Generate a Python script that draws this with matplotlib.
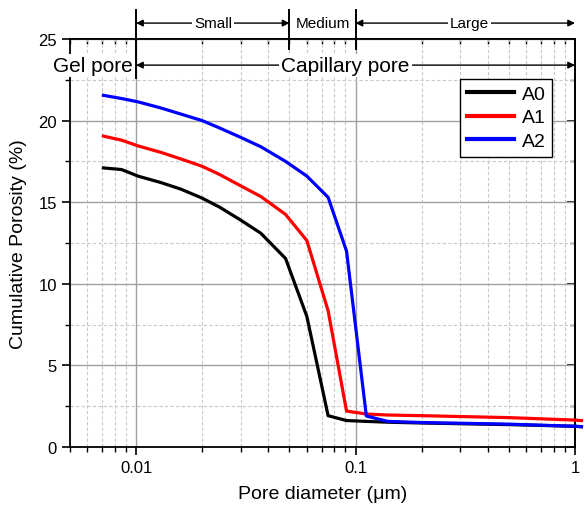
import matplotlib
matplotlib.use('Agg')
import matplotlib.pyplot as plt
from matplotlib.ticker import MultipleLocator, FixedLocator, NullFormatter

plt.rcParams['font.family'] = ['Liberation Sans', 'DejaVu Sans']

# pore diameter (um) and cumulative porosity (%)
diam = [0.0071, 0.0086, 0.0102, 0.013, 0.016, 0.020, 0.024, 0.030, 0.037,
        0.048, 0.060, 0.075, 0.091, 0.112, 0.14, 0.2, 0.5, 1.0, 1.07]
a0 = [17.1, 17.0, 16.6, 16.2, 15.8, 15.25, 14.7, 13.9, 13.1,
      11.55, 8.0, 1.92, 1.62, 1.57, 1.52, 1.47, 1.37, 1.27, 1.25]
a1 = [19.05, 18.8, 18.45, 18.05, 17.65, 17.2, 16.7, 16.0, 15.35,
      14.25, 12.65, 8.35, 2.2, 2.02, 1.96, 1.92, 1.8, 1.65, 1.62]
a2 = [21.55, 21.35, 21.15, 20.77, 20.4, 20.0, 19.55, 18.97, 18.4,
      17.5, 16.6, 15.3, 12.0, 1.9, 1.57, 1.5, 1.4, 1.27, 1.24]
series = [('A0', a0, 'black'), ('A1', a1, 'red'), ('A2', a2, 'blue')]

fig = plt.figure(figsize=(5.88, 5.10), dpi=100)
ax = fig.add_axes([70/588, 62/510, 505/588, 408/510])

for name, y, c in series:
    ax.plot(diam, y, color=c, lw=2.3, label=name, clip_on=False, zorder=3)

ax.set_xscale('log')
ax.set_xlim(0.005, 1)
ax.set_ylim(0, 25)
ax.yaxis.set_major_locator(MultipleLocator(5))
ax.yaxis.set_minor_locator(MultipleLocator(2.5))
ax.xaxis.set_major_locator(FixedLocator([0.01, 0.1, 1]))
ax.xaxis.set_major_formatter(plt.FuncFormatter(lambda v, p: '%g' % v))
ax.xaxis.set_minor_formatter(NullFormatter())

ax.grid(which='major', color='#a0a0a0', lw=1.0)
ax.grid(which='minor', color='#c8c8c8', lw=0.8, ls=(0, (3, 2)))
ax.set_axisbelow(True)

ax.tick_params(which='both', direction='out', top=False, right=False, labelsize=12)
ax.tick_params(which='major', length=6, width=1.2)
ax.tick_params(which='minor', length=3.5, width=1.0)
sec = ax.secondary_xaxis('top')
sec.tick_params(which='both', direction='in', labeltop=False)
sec.tick_params(which='major', length=6, width=1.2)
sec.tick_params(which='minor', length=3.5, width=1.0)
sec.xaxis.set_major_locator(FixedLocator([0.01, 0.1, 1]))
sec.xaxis.set_major_formatter(NullFormatter())
sec.xaxis.set_minor_formatter(NullFormatter())
sec2 = ax.secondary_yaxis('right')
sec2.tick_params(which='both', direction='in', labelright=False)
sec2.tick_params(which='major', length=6, width=1.2)
sec2.tick_params(which='minor', length=3.5, width=1.0)
sec2.yaxis.set_major_locator(MultipleLocator(5))
sec2.yaxis.set_minor_locator(MultipleLocator(2.5))
for s in list(ax.spines.values()) + list(sec.spines.values()) + list(sec2.spines.values()):
    s.set_linewidth(1.3)

ax.set_xlabel('Pore diameter (μm)', fontsize=14, labelpad=7)
ax.set_ylabel('Cumulative Porosity (%)', fontsize=14, labelpad=8)

leg = ax.legend(loc='upper right', bbox_to_anchor=(0.955, 0.903), borderaxespad=0,
                fontsize=14, fancybox=False, edgecolor='black', framealpha=1,
                handlelength=2.4, borderpad=0.35, labelspacing=0.3, handletextpad=0.4)
leg.get_frame().set_linewidth(1.0)
for ln in leg.get_lines():
    ln.set_linewidth(3)

# pore class annotations above / inside the frame
tr = ax.get_xaxis_transform()
ax.plot([0.01, 0.01], [1.07, 0.905], color='black', lw=1.4, transform=tr, clip_on=False)
for xv in [0.05, 0.1]:
    ax.plot([xv, xv], [1.07, 0.975], color='black', lw=1.4, transform=tr, clip_on=False)

arw = dict(arrowstyle='<|-|>', color='black', lw=1.0, mutation_scale=10, shrinkA=0, shrinkB=0)
ax.annotate('', xy=(0.01, 1.039), xytext=(0.05, 1.039), xycoords=tr, textcoords=tr,
            arrowprops=arw, annotation_clip=False)
ax.annotate('', xy=(0.1, 1.039), xytext=(1.0, 1.039), xycoords=tr, textcoords=tr,
            arrowprops=arw, annotation_clip=False)
ax.annotate('', xy=(0.01, 0.936), xytext=(1.0, 0.936), xycoords=tr, textcoords=tr,
            arrowprops=arw, annotation_clip=False)
wb = dict(facecolor='white', edgecolor='none', pad=1.5)
ax.text(0.0224, 1.039, 'Small', transform=tr, ha='center', va='center', fontsize=11,
        bbox=wb, clip_on=False)
ax.text(0.0707, 1.039, 'Medium', transform=tr, ha='center', va='center', fontsize=11,
        clip_on=False)
ax.text(0.33, 1.039, 'Large', transform=tr, ha='center', va='center', fontsize=11,
        bbox=wb, clip_on=False)
ax.text(0.09, 0.936, 'Capillary pore', transform=tr, ha='center', va='center', fontsize=15,
        bbox=wb, clip_on=False, zorder=4)
ax.text(0.0097, 0.936, 'Gel pore', transform=tr, ha='right', va='center', fontsize=15,
        bbox=wb, clip_on=False, zorder=4)

fig.savefig('out.png', dpi=100)
